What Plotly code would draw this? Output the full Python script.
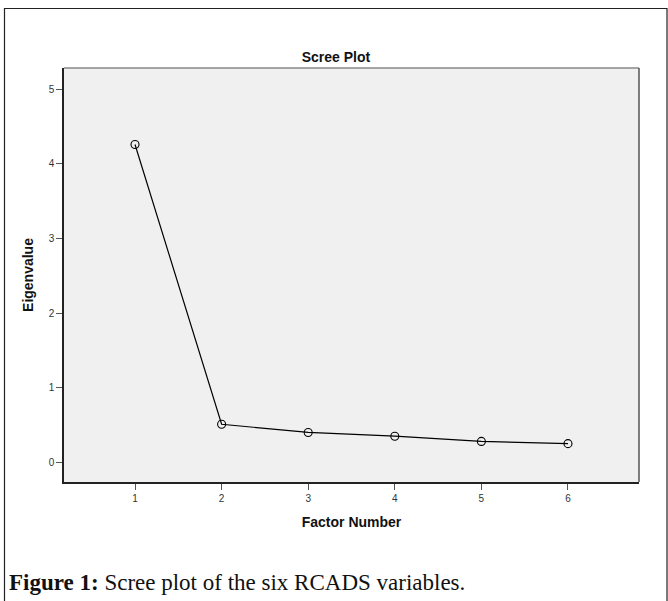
import plotly.graph_objects as go

factor_number = [1, 2, 3, 4, 5, 6]
eigenvalues = [4.26, 0.51, 0.40, 0.35, 0.28, 0.25]
y_ticks = [0, 1, 2, 3, 4, 5]

W, H = 668, 601
L, R, T, B = 64, 29, 68, 119
pw, ph = W - L - R, H - T - B

def px(x):
    return (x - L) / pw

def py(y):
    return (H - B - y) / ph

fig = go.Figure()
fig.add_trace(go.Scatter(
    x=factor_number, y=eigenvalues, mode="lines+markers",
    line=dict(color="#000000", width=1.2),
    marker=dict(symbol="circle-open", size=8, color="#000000", line=dict(width=1.1)),
    showlegend=False, hoverinfo="x+y",
))

fig.update_layout(
    width=W, height=H,
    margin=dict(l=L, r=R, t=T, b=B),
    paper_bgcolor="white",
    plot_bgcolor="#f0f0f0",
    font=dict(family="Liberation Sans, Arial, sans-serif", color="#222222"),
    title=dict(text="<b>Scree Plot</b>", x=336 / W, xanchor="center",
               y=1 - 57 / H, yanchor="middle", font=dict(size=14, color="#111111")),
    xaxis=dict(range=[0.18, 6.82], tickvals=factor_number, ticks="outside", ticklen=6,
               tickcolor="#555555", tickwidth=1, showgrid=False, zeroline=False,
               showline=True, linecolor="#222222", linewidth=1.5,
               tickfont=dict(size=10, color="#333333"),
               title=dict(text="<b>Factor Number</b>", font=dict(size=14, color="#111111"), standoff=14)),
    yaxis=dict(range=[-0.264, 5.285], tickvals=y_ticks, ticks="outside", ticklen=6,
               tickcolor="#555555", tickwidth=1, showgrid=False, zeroline=False,
               showline=True, linecolor="#222222", linewidth=1.5,
               tickfont=dict(size=10, color="#333333"),
               title=dict(text="<b>Eigenvalue</b>", font=dict(size=14, color="#111111"), standoff=12)),
)

# top and right plot frame in gray
fig.add_shape(type="line", xref="paper", yref="paper", x0=0, x1=1, y0=1, y1=1,
              line=dict(color="#888888", width=1.5))
fig.add_shape(type="line", xref="paper", yref="paper", x0=1, x1=1, y0=0, y1=1,
              line=dict(color="#555555", width=1.5))

# outer figure box
fig.add_shape(type="rect", xref="paper", yref="paper",
              x0=px(4.5), x1=px(667), y0=py(606), y1=py(8.5),
              line=dict(color="#222222", width=1.2), fillcolor="rgba(0,0,0,0)", layer="below")

fig.add_annotation(
    xref="paper", yref="paper", x=px(7), y=py(582), xanchor="left", yanchor="middle",
    text="<b>Figure 1:</b> Scree plot of the six RCADS variables.", showarrow=False,
    font=dict(family="Liberation Serif, serif", size=23, color="#111111"),
)

fig.write_html("out.html", config={"displayModeBar": False},
               post_script="document.body.style.margin='0px';")
